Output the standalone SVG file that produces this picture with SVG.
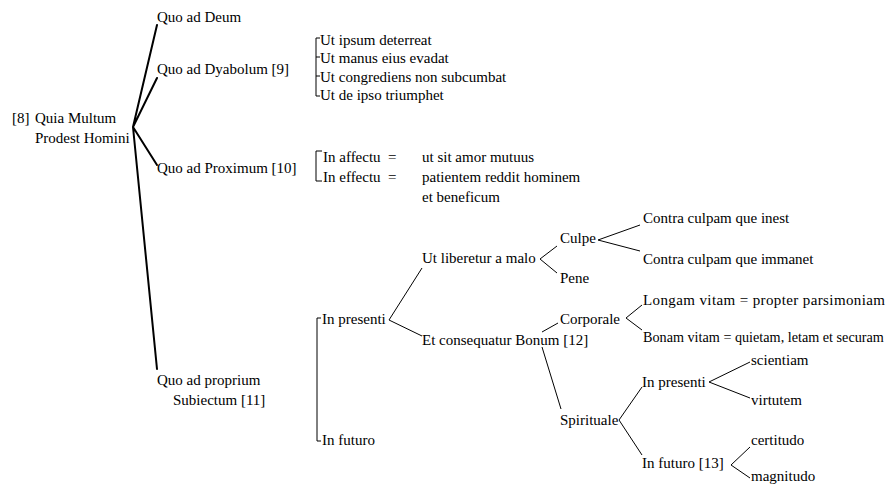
<svg xmlns="http://www.w3.org/2000/svg" width="891" height="486" viewBox="0 0 891 486">
<style>
text{font-family:"Liberation Serif","DejaVu Serif",serif;font-size:15px;fill:#000}
.main{stroke:#000;stroke-width:2;fill:none;stroke-linecap:round}
.thin{stroke:#000;stroke-width:1;fill:none}
</style>
<rect width="891" height="486" fill="#fff"/>
<g id="connectors">
<path class="main" d="M133,127 L157,25 M133,127 L157,78 M133,127 L157,165 M133,127 L157,369"/>
<path class="thin" d="M320,38 H316 V96 H320 M316,57 H320 M316,76 H320"/>
<path class="thin" d="M322,151 H316 V181 H322"/>
<path class="thin" d="M321,318 H317 V441 H321"/>
<path class="thin" d="M422,268 L389,320 L422,336"/>
<path class="thin" d="M557,246 L540,259 L557,273"/>
<path class="thin" d="M640,225 L598,240 L640,251"/>
<path class="thin" d="M542,332 L558,323"/>
<path class="thin" d="M642,305 L626,318 L642,330"/>
<path class="thin" d="M542,347 L561,409"/>
<path class="thin" d="M642,387 L619,420 L642,455"/>
<path class="thin" d="M750,362 L709,382 L750,398"/>
<path class="thin" d="M750,447 L731,465 L750,478"/>
</g>
<g id="root"><text x="12" y="123">[8]</text><text x="35" y="123">Quia Multum</text><text x="35" y="143">Prodest Homini</text></g>
<g id="deum"><text x="157" y="22">Quo ad Deum</text></g>
<g id="dyabolum"><text x="157" y="74">Quo ad Dyabolum [9]</text></g>
<g id="dyabolum-list">
<text x="320" y="45">Ut ipsum deterreat</text>
<text x="320" y="63">Ut manus eius evadat</text>
<text x="320" y="82">Ut congrediens non subcumbat</text>
<text x="320" y="100">Ut de ipso triumphet</text>
</g>
<g id="proximum"><text x="157" y="173">Quo ad Proximum [10]</text></g>
<g id="proximum-list">
<text x="323" y="162">In affectu</text><text x="388" y="162">=</text><text x="422" y="162">ut sit amor mutuus</text>
<text x="323" y="182">In effectu</text><text x="388" y="182">=</text><text x="422" y="182">patientem reddit hominem</text>
<text x="422" y="202">et beneficum</text>
</g>
<g id="proprium"><text x="157" y="385">Quo ad proprium</text><text x="173" y="405">Subiectum [11]</text></g>
<g id="in-presenti"><text x="322" y="324">In presenti</text></g>
<g id="in-futuro"><text x="322" y="445">In futuro</text></g>
<g id="liberetur"><text x="422" y="263">Ut liberetur a malo</text></g>
<g id="consequatur"><text x="422" y="345">Et consequatur Bonum [12]</text></g>
<g id="culpe"><text x="560" y="243">Culpe</text></g>
<g id="pene"><text x="560" y="283">Pene</text></g>
<g id="inest"><text x="643" y="223">Contra culpam que inest</text></g>
<g id="immanet"><text x="643" y="264">Contra culpam que immanet</text></g>
<g id="corporale"><text x="560" y="324">Corporale</text></g>
<g id="longam"><text x="643" y="305" textLength="242" lengthAdjust="spacing">Longam vitam = propter parsimoniam</text></g>
<g id="bonam"><text x="643" y="342" style="font-size:14.2px">Bonam vitam = quietam, letam et securam</text></g>
<g id="spirituale"><text x="560" y="425">Spirituale</text></g>
<g id="sp-presenti"><text x="642" y="387">In presenti</text></g>
<g id="scientiam"><text x="751" y="365">scientiam</text></g>
<g id="virtutem"><text x="751" y="405">virtutem</text></g>
<g id="sp-futuro"><text x="642" y="468">In futuro [13]</text></g>
<g id="certitudo"><text x="751" y="445">certitudo</text></g>
<g id="magnitudo"><text x="751" y="481">magnitudo</text></g>
</svg>
